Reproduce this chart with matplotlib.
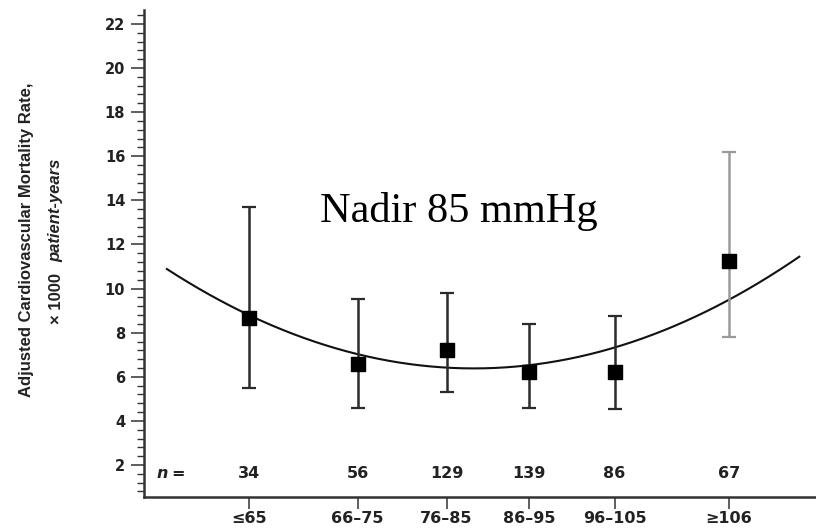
import matplotlib
matplotlib.use('Agg')
import matplotlib.pyplot as plt
from matplotlib.ticker import MultipleLocator
import numpy as np

# Diastolic BP groups (x = group mean, mmHg)
groups = ['≤65', '66–75', '76–85', '86–95', '96–105', '≥106']
bp_mean = [59.4, 71.8, 81.9, 91.3, 101.0, 114.0]
n_patients = [34, 56, 129, 139, 86, 67]

# Adjusted CV mortality per 1000 patient-years with 95% CI
rate = [8.68, 6.57, 7.22, 6.23, 6.20, 11.25]
ci_low = [5.48, 4.57, 5.32, 4.57, 4.53, 7.82]
ci_high = [13.69, 9.51, 9.79, 8.39, 8.76, 16.21]
bar_colors = ['#2b2b2b', '#2b2b2b', '#2b2b2b', '#2b2b2b', '#2b2b2b', '#9a9a9a']

# Quadratic fit: rate = nadir_rate + curvature * (bp - nadir_bp)^2
nadir_bp = 85
nadir_rate = 6.38
curvature = 0.0037
fit_range = (50.1, 122.0)

fig = plt.figure(figsize=(8.16, 5.31), dpi=100)
ax = fig.add_axes([144 / 816, 34 / 531, 672 / 816, 487 / 531])

# fitted curve
xs = np.linspace(fit_range[0], fit_range[1], 300)
ax.plot(xs, nadir_rate + curvature * (xs - nadir_bp) ** 2, color='#111111', lw=1.5, zorder=2)

# point estimates with CIs
for x, r, lo, hi, c in zip(bp_mean, rate, ci_low, ci_high, bar_colors):
    ax.errorbar([x], [r], yerr=[[r - lo], [hi - r]], fmt='none', ecolor=c,
                elinewidth=1.8, capsize=5, capthick=1.6, zorder=3)
ax.scatter(bp_mean, rate, marker='s', s=110, color='black', zorder=4)

ax.set_xlim(47.5, 123.9)
ax.set_ylim(0.55, 22.63)

ax.yaxis.set_minor_locator(MultipleLocator(0.4))
ax.set_yticks(np.arange(2, 23, 2))
ax.set_xticks(bp_mean)
ax.set_xticklabels(groups)

ax.tick_params(axis='y', which='major', direction='out', length=9.5, width=1.1,
               color='#333333', labelsize=10.5, pad=4)
ax.tick_params(axis='y', which='minor', direction='out', length=5, width=1.0,
               color='#333333')
ax.tick_params(axis='x', which='major', direction='out', length=8.5, width=1.1,
               color='#333333', labelsize=11.5, pad=1.5)
for lab in ax.get_yticklabels() + ax.get_xticklabels():
    lab.set_fontweight('bold')
    lab.set_color('#222222')
    lab.set_family('DejaVu Sans')

for side in ['top', 'right']:
    ax.spines[side].set_visible(False)
for side in ['left', 'bottom']:
    ax.spines[side].set_linewidth(1.8)
    ax.spines[side].set_color('#333333')

# n per group row
n_y = 1.6
ax.text(50.2, n_y, 'n', style='italic', fontweight='bold', fontsize=11.5,
        ha='right', va='center', color='#222222', family='DejaVu Sans')
ax.text(50.6, n_y, '=', fontweight='bold', fontsize=11.5, ha='left', va='center',
        color='#222222', family='DejaVu Sans')
for x, n in zip(bp_mean, n_patients):
    ax.text(x, n_y, str(n), fontweight='bold', fontsize=11.5, ha='center',
            va='center', color='#222222', family='DejaVu Sans')

ax.text(nadir_bp - 17.5, 13.0, 'Nadir 85 mmHg', family='Liberation Serif',
        fontsize=30.5, ha='left', va='baseline', color='black')

# y-axis title (two lines, second partly italic)
fig.text(27 / 816, 1 - 240 / 531, 'Adjusted Cardiovascular Mortality Rate,',
         rotation=90, ha='center', va='center', fontsize=12, fontweight='bold',
         family='Liberation Sans', color='#222222')
fig.text(56 / 816, 1 - 298 / 531, '× 1000', rotation=90, ha='center', va='center',
         fontsize=12, fontweight='bold', family='Liberation Sans', color='#222222')
fig.text(56 / 816, 1 - 210 / 531, 'patient-years', rotation=90, ha='center',
         va='center', fontsize=12, fontweight='bold', style='italic',
         family='Liberation Sans', color='#222222')

fig.savefig('out.png', dpi=100)
